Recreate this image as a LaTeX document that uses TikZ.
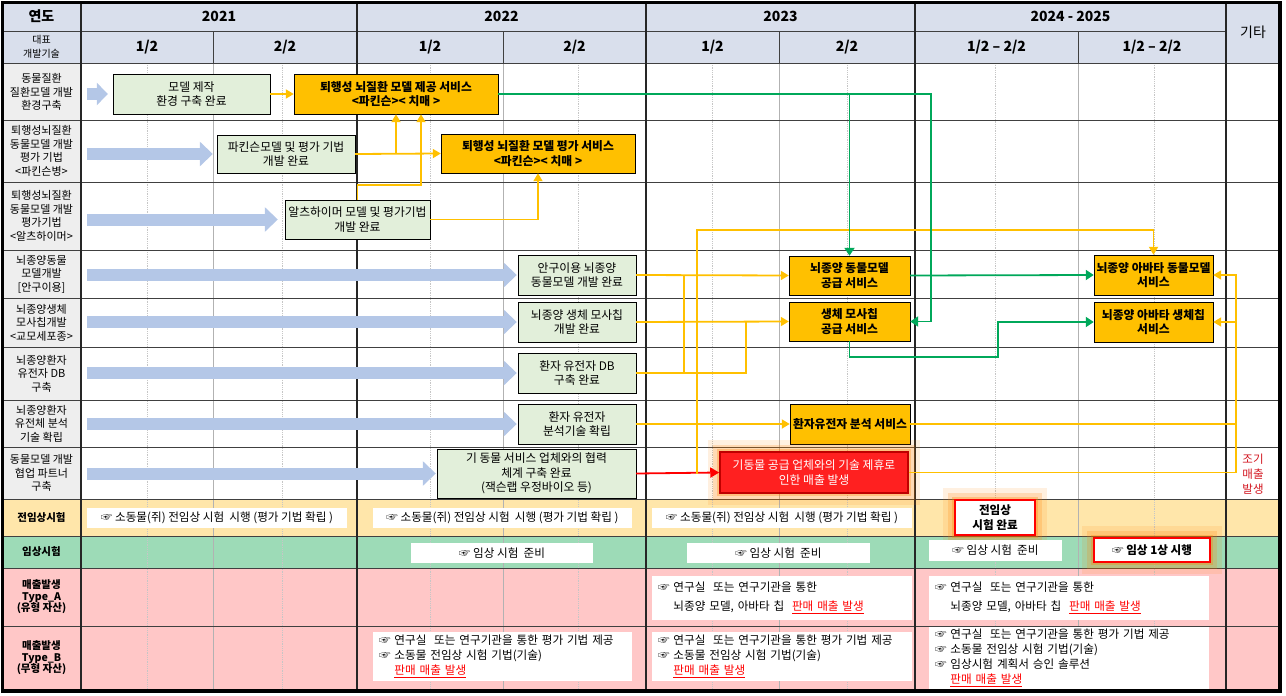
\documentclass[tikz,border=0pt]{standalone}
\usepackage{fontspec}
\setmainfont{Noto Sans CJK KR}
\usetikzlibrary{arrows.meta}
\definecolor{hdrfill}{RGB}{217,223,236}
\definecolor{labfill}{RGB}{238,238,238}
\definecolor{prefill}{RGB}{255,230,170}
\definecolor{clinfill}{RGB}{157,219,183}
\definecolor{salefill}{RGB}{255,199,199}
\definecolor{gboxfill}{RGB}{226,239,218}
\definecolor{oboxfill}{RGB}{255,192,0}
\definecolor{bigblue}{RGB}{180,199,231}
\definecolor{yline}{RGB}{255,192,0}
\definecolor{gline}{RGB}{0,168,90}
\definecolor{redfill}{RGB}{255,32,32}
\definecolor{redtext}{RGB}{210,20,30}
\newcommand{\handmark}{☞}
\newcommand{\salemark}{\textcolor{red}{\underline{판매 매출 발생}}}

\begin{document}
\begin{tikzpicture}[x=1pt, y=-1pt]
\tikzset{qline/.style={draw=gray!45, densely dotted, line width=0.8pt}, hline/.style={draw=gray!60, line width=0.8pt}}
\tikzset{gridline/.style={draw=black!75, line width=1pt}, yearline/.style={draw=black!85, line width=1.3pt}}
\tikzset{hdr/.style={font=\fontsize{14}{16}\selectfont\bfseries}, lab/.style={align=center, minimum width=79pt, inner sep=0pt, font=\fontsize{11}{13.5}\selectfont}}
\tikzset{gbox/.style={draw=black, fill=gboxfill, align=center, inner sep=0pt, font=\fontsize{11.8}{14.5}\selectfont}}
\tikzset{obox/.style={draw=black, fill=oboxfill, align=center, inner sep=0pt, font=\fontsize{11.8}{14.5}\selectfont\bfseries}}
\tikzset{wbox/.style={fill=white, align=center, inner sep=0pt, font=\fontsize{11.6}{14}\selectfont}, sbox/.style={fill=white, align=left, inner xsep=6pt, inner ysep=0pt, font=\fontsize{11.6}{15}\selectfont}}
\tikzset{glow/.style={preaction={draw=orange, opacity=0.12, line width=24pt}, preaction={draw=orange, opacity=0.2, line width=14pt}, preaction={draw=orange, opacity=0.3, line width=6pt}}}
\tikzset{bigarrow/.style={draw=bigblue, line width=12pt, -{Triangle[length=13pt,width=24pt]}}}
\tikzset{ylink/.style={draw=yline, line width=1.8pt}, yarrow/.style={ylink, -{Triangle[length=8pt,width=9pt]}}}
\tikzset{glink/.style={draw=gline, line width=1.8pt, -{Triangle[length=8pt,width=10pt]}}, rlink/.style={draw=red, line width=1.8pt, -{Triangle[length=9pt,width=10pt]}}}
\useasboundingbox (0,0) rectangle (1286,696);

\fill[hdrfill] (2,2) rectangle (1280,63);
\fill[labfill] (2,63) rectangle (81,499);
\fill[prefill] (2,499) rectangle (1280,536);
\fill[clinfill] (2,536) rectangle (1280,568);
\fill[salefill] (2,568) rectangle (1280,690);

\draw[qline] (147,63) -- (147,690) (282,63) -- (282,690) (430,63) -- (430,690) (578,63) -- (578,690) (712,63) -- (712,690) (847,63) -- (847,690) (995,63) -- (995,690) (1154,63) -- (1154,690);
\draw[hline] (213,63) -- (213,690) (503,63) -- (503,690) (779,63) -- (779,690) (1078,63) -- (1078,690);
\draw[gridline] (213,31) -- (213,63) (503,31) -- (503,63) (779,31) -- (779,63) (1078,31) -- (1078,63) (2,31) -- (1226,31);
\draw[gridline] (2,63) -- (1280,63) (2,120) -- (1280,120) (2,182) -- (1280,182) (2,250) -- (1280,250) (2,298) -- (1280,298) (2,347) -- (1280,347);
\draw[gridline] (2,400) -- (1280,400) (2,447) -- (1280,447) (2,499) -- (1280,499) (2,536) -- (1280,536) (2,568) -- (1280,568) (2,626) -- (1280,626);
\draw[yearline] (81,2) -- (81,690) (357,2) -- (357,690) (646,2) -- (646,690) (915,2) -- (915,690) (1226,2) -- (1226,690);
\draw[line width=3pt] (2,2) rectangle (1280,691);
\draw[line width=4.5pt] (1280,2) -- (1280,692) (2,691) -- (1281,691);

% header
\node[hdr] (hyear) at (41.5,16.5) {연도};
\node[lab, font=\fontsize{10}{14}\selectfont] (htech) at (41.5,47) {대표\\개발기술};
\node[hdr] (y21) at (219,16.5) {2021};
\node[hdr] (y22) at (501.5,16.5) {2022};
\node[hdr] (y23) at (780.5,16.5) {2023};
\node[hdr] (y24) at (1070.5,16.5) {2024 - 2025};
\node[hdr, font=\fontsize{14}{16}\selectfont] (etc) at (1253,32.5) {기타};
\node[hdr] (h21a) at (147,47) {1/2};
\node[hdr] (h21b) at (285,47) {2/2};
\node[hdr] (h22a) at (430,47) {1/2};
\node[hdr] (h22b) at (574.5,47) {2/2};
\node[hdr] (h23a) at (712.5,47) {1/2};
\node[hdr] (h23b) at (847,47) {2/2};
\node[hdr] (h24a) at (996.5,47) {1/2 – 2/2};
\node[hdr] (h24b) at (1152,47) {1/2 – 2/2};

% row labels
\node[lab] (l1) at (41.5,92) {동물질환\\질환모델 개발\\환경구축};
\node[lab] (l2) at (41.5,151) {퇴행성뇌질환\\동물모델 개발\\평가 기법\\<파킨슨병>};
\node[lab] (l3) at (41.5,216) {퇴행성뇌질환\\동물모델 개발\\평가기법\\<알츠하이머>};
\node[lab] (l4) at (41.5,274) {뇌종양동물\\모델개발\\{[}안구이용{]}};
\node[lab] (l5) at (41.5,322.5) {뇌종양생체\\모사칩개발\\<교모세포종>};
\node[lab] (l6) at (41.5,373.5) {뇌종양환자\\유전자 DB\\구축};
\node[lab] (l7) at (41.5,423.5) {뇌종양환자\\유전체 분석\\기술 확립};
\node[lab] (l8) at (41.5,473) {동물모델 개발\\협업 파트너\\구축};
\node[lab, font=\fontsize{10.5}{11.5}\selectfont\bfseries] (lpre) at (41.5,517.5) {전임상시험};
\node[lab, font=\fontsize{10.5}{11.5}\selectfont\bfseries] (lclin) at (41.5,552) {임상시험};
\node[lab, font=\fontsize{10.5}{11.5}\selectfont\bfseries] (lsa) at (41.5,597) {매출발생\\Type\_A\\(유형 자산)};
\node[lab, font=\fontsize{10.5}{11.5}\selectfont\bfseries] (lsb) at (41.5,658) {매출발생\\Type\_B\\(무형 자산)};

% development boxes
\node[gbox, minimum width=157pt, minimum height=40pt] (mk) at (191.5,94) {모델 제작\\환경 구축 완료};
\node[obox, minimum width=204pt, minimum height=40pt] (ob1) at (396,94) {퇴행성 뇌질환 모델 제공 서비스\\<파킨슨>< 치매 >};
\node[gbox, minimum width=138pt, minimum height=38pt] (pk) at (286,154) {파킨슨모델 및 평가 기법\\개발 완료};
\node[obox, minimum width=194pt, minimum height=39pt] (ob2) at (538,153.5) {퇴행성 뇌질환 모델 평가 서비스\\<파킨슨>< 치매 >};
\node[gbox, minimum width=145pt, minimum height=39pt] (az) at (357.5,219.5) {알츠하이머 모델 및 평가기법\\개발 완료};
\node[gbox, minimum width=118pt, minimum height=40pt] (eye) at (577,275) {안구이용 뇌종양\\동물모델 개발 완료};
\node[gbox, minimum width=118pt, minimum height=40pt] (chip) at (577,322) {뇌종양 생체 모사칩\\개발 완료};
\node[gbox, minimum width=118pt, minimum height=40pt] (db) at (577,373) {환자 유전자 DB\\구축 완료};
\node[gbox, minimum width=118pt, minimum height=40pt] (gen) at (577,424) {환자 유전자\\분석기술 확립};
\node[gbox, minimum width=199pt, minimum height=49pt] (co) at (536.5,473.5) {기 동물 서비스 업체와의 협력\\체계 구축 완료\\(잭슨랩 우정바이오 등)};
\node[obox, minimum width=121pt, minimum height=39pt] (ts) at (849.5,275.5) {뇌종양 동물모델\\공급 서비스};
\node[obox, minimum width=121pt, minimum height=39pt] (cs) at (849.5,321.5) {생체 모사칩\\공급 서비스};
\node[obox, minimum width=120pt, minimum height=40pt] (gs) at (850,424) {환자유전자 분석 서비스};
\node[gbox, glow, draw=red!75!black, line width=1.5pt, fill=redfill, text=white, minimum width=188pt, minimum height=41pt] (rev) at (814,472.5) {기동물 공급 업체와의 기술 제휴로\\인한 매출 발생};
\node[obox, minimum width=119pt, minimum height=40pt] (av1) at (1153.5,275) {뇌종양 아바타 동물모델\\서비스};
\node[obox, minimum width=119pt, minimum height=40pt] (av2) at (1153.5,322) {뇌종양 아바타 생체칩\\서비스};
\node[text=redtext, align=center, font=\fontsize{11.5}{15}\selectfont] (early) at (1253,474) {조기\\매출\\발생};

% big arrows
\coordinate (ax) at (87,0);
\draw[bigarrow, -{Triangle[length=11pt,width=22pt]}] (ax |- mk.west) -- ([xshift=-5pt]mk.west);
\draw[bigarrow] (ax |- pk.west) -- ([xshift=-4pt]pk.west);
\draw[bigarrow] (ax |- az.west) -- ([xshift=-7pt]az.west);
\draw[bigarrow] (ax |- eye.west) -- ([xshift=-1pt]eye.west);
\draw[bigarrow] (ax |- chip.west) -- ([xshift=-1pt]chip.west);
\draw[bigarrow] (ax |- db.west) -- ([xshift=-1pt]db.west);
\draw[bigarrow] (ax |- gen.west) -- ([xshift=-1pt]gen.west);
\draw[bigarrow] (ax |- co.west) -- ([xshift=-1pt]co.west);

% links
\coordinate (ya) at (421,185);
\coordinate (yd1) at (684,373);
\coordinate (yd2) at (746,373);
\coordinate (yt) at (697,230);
\coordinate (yr) at (1236,0);
\coordinate (gr) at (931,0);
\coordinate (gm) at (998,357);
\draw[yarrow] (mk.east) -- (ob1.west);
\draw[yarrow] (pk.east) -- (ob2.west);
\draw[yarrow] (ob1.south |- pk.east) -- (ob1.south);
\draw[yarrow] (az.north) |- (ya) -- (ya |- ob1.south);
\draw[yarrow] (az.east) -| (ob2.south);
\draw[yarrow] (eye.east) -- (ts.west);
\draw[yarrow] (chip.east) -- (cs.west);
\draw[ylink] (db.east) -- (yd2) -- (yd2 |- chip.east);
\draw[ylink] (yd1) -- (yd1 |- eye.east);
\draw[yarrow] (gen.east) -- (gs.west);
\draw[rlink] (co.east) -- (rev.west);
\draw[yarrow] (yt |- co.east) -- (yt) -| (av1.north);
\draw[yarrow] (rev.east) -| (yr |- av1.east) -- (av1.east);
\draw[ylink] (gs.east) -- (yr |- gs.east);
\draw[yarrow] (yr |- av2.east) -- (av2.east);
\draw[glink] (ob1.east) -| (gr |- cs.east) -- (cs.east);
\draw[glink] (ts.north |- ob1.east) -- (ts.north);
\draw[glink] (ts.east) -- (av1.west);
\draw[glink] (cs.south) |- (gm) |- (av2.west);

% trial and sales rows
\node[wbox, minimum width=260pt, minimum height=20pt] (pre1) at (217,518) {\handmark\ 소동물(쥐) 전임상 시험\ \ 시행 (평가 기법 확립 )};
\node[wbox, minimum width=259pt, minimum height=20pt] (pre2) at (502.5,518) {\handmark\ 소동물(쥐) 전임상 시험\ \ 시행 (평가 기법 확립 )};
\node[wbox, minimum width=260pt, minimum height=20pt] (pre3) at (782,518) {\handmark\ 소동물(쥐) 전임상 시험\ \ 시행 (평가 기법 확립 )};
\node[wbox, glow, draw=red, line width=2.5pt, minimum width=80pt, minimum height=35pt, font=\fontsize{11.6}{15}\selectfont\bfseries] (predone) at (995,517.5) {전임상\\시험 완료};
\node[wbox, minimum width=182pt, minimum height=20pt] (clin1) at (502,553) {\handmark\ 임상 시험\ \ 준비};
\node[wbox, minimum width=183pt, minimum height=20pt] (clin2) at (778.5,553) {\handmark\ 임상 시험\ \ 준비};
\node[wbox, minimum width=133pt, minimum height=21pt] (clin3) at (995.5,550.5) {\handmark\ 임상 시험\ \ 준비};
\node[wbox, glow, draw=red, line width=2.5pt, minimum width=116pt, minimum height=24pt, font=\fontsize{11.6}{14}\selectfont\bfseries] (clin4) at (1152,550) {\handmark\ 임상 1상 시행};
\node[sbox, text width=248pt, minimum height=44pt] (sa1) at (782,598) {\handmark\ 연구실\ \ 또는 연구기관을 통한\\[4pt]\phantom{\handmark\ }뇌종양 모델, 아바타 칩\ \ \salemark};
\node[sbox, text width=268pt, minimum height=44pt] (sa2) at (1069,598) {\handmark\ 연구실\ \ 또는 연구기관을 통한\\[4pt]\phantom{\handmark\ }뇌종양 모델, 아바타 칩\ \ \salemark};
\node[sbox, text width=247pt, minimum height=49pt] (sb1) at (502.5,656.5) {\handmark\ 연구실\ \ 또는 연구기관을 통한 평가 기법 제공\\\handmark\ 소동물 전임상 시험 기법(기술)\\\phantom{\handmark\ }\salemark};
\node[sbox, text width=248pt, minimum height=49pt] (sb2) at (782,656.5) {\handmark\ 연구실\ \ 또는 연구기관을 통한 평가 기법 제공\\\handmark\ 소동물 전임상 시험 기법(기술)\\\phantom{\handmark\ }\salemark};
\node[sbox, text width=268pt, minimum height=62pt] (sb3) at (1069,658) {\handmark\ 연구실\ \ 또는 연구기관을 통한 평가 기법 제공\\\handmark\ 소동물 전임상 시험 기법(기술)\\\handmark\ 임상시험 계획서 승인 솔루션\\\phantom{\handmark\ }\salemark};

\end{tikzpicture}
\end{document}
